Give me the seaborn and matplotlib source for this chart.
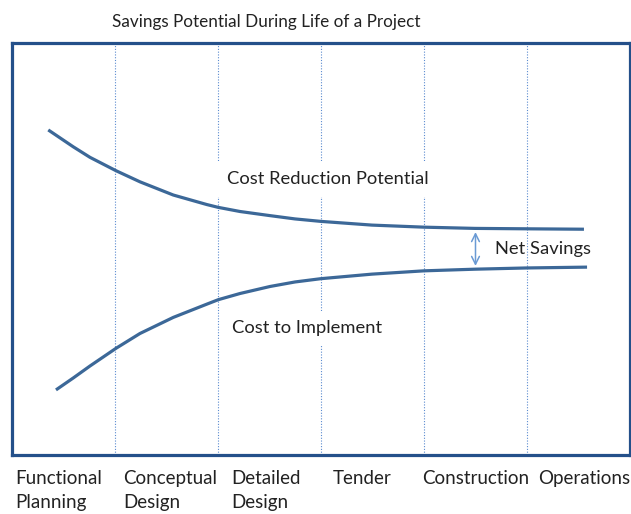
import seaborn as sns
import numpy as np
import pandas as pd
import matplotlib.pyplot as plt

# project phases (one column each) and where their labels sit
phases = ["Functional\nPlanning", "Conceptual\nDesign", "Detailed\nDesign",
          "Tender", "Construction", "Operations"]
phase_label_pos = [0.45, 1.54, 2.47, 3.40, 4.50, 5.56]

# curves: x in phase units, y in % of frame height
reduction_x = [0.352, 0.595, 0.757, 1.010, 1.243, 1.566, 1.890, 2.003, 2.214,
               2.505, 2.748, 3.000, 3.495, 4.000, 4.495, 5.000, 5.553]
reduction_y = [78.9, 74.8, 72.25, 69.0, 66.3, 63.1, 60.8, 60.1, 59.1,
               58.1, 57.3, 56.7, 55.8, 55.3, 55.0, 54.9, 54.8]
implement_x = [0.427, 0.595, 0.757, 1.010, 1.243, 1.566, 1.890, 2.003, 2.214,
               2.505, 2.748, 3.000, 3.495, 4.000, 4.495, 5.000, 5.583]
implement_y = [15.8, 18.7, 21.6, 25.9, 29.5, 33.4, 36.6, 37.7, 39.2,
               40.9, 42.0, 42.8, 43.9, 44.7, 45.1, 45.4, 45.6]

# net savings arrow
arrow_x = 4.50
arrow_top = 54.1
arrow_bottom = 45.9

sns.set_theme(style="white")
plt.rcParams['font.family'] = ['Lato', 'DejaVu Sans']

frame_color = "#24508a"
curve_color = "#3c6898"
grid_color = "#5b8bd0"
text_color = "#222222"

fig = plt.figure(figsize=(6.31, 5.14), dpi=100)
ax = fig.add_axes([12 / 631, 59 / 514, 618 / 631, 412 / 514])

df = pd.concat([
    pd.DataFrame({"phase": reduction_x, "value": reduction_y, "curve": "reduction"}),
    pd.DataFrame({"phase": implement_x, "value": implement_y, "curve": "implement"}),
])
sns.lineplot(data=df, x="phase", y="value", units="curve", estimator=None,
             sort=False, color=curve_color, lw=2.3, ax=ax, zorder=5,
             solid_capstyle="butt", solid_joinstyle="round")

# dotted phase separators
for b in range(1, len(phases)):
    ax.axvline(b, color=grid_color, lw=0.8, ls=(0, (1, 1.5)), zorder=1)

ax.set_xlim(0, len(phases))
ax.set_ylim(0, 100)
ax.set_xlabel("")
ax.set_ylabel("")
ax.set_yticks([])
ax.set_xticks(phase_label_pos)
ax.set_xticklabels(phases, fontsize=13.5, color=text_color,
                   multialignment="left", linespacing=1.45)
ax.tick_params(axis="x", length=0, pad=11)
for s in ax.spines.values():
    s.set_color(frame_color)
    s.set_linewidth(2.3)

ax.text(2.09, 67.0, "Cost Reduction Potential", fontsize=13.2, color=text_color,
        va="center", ha="left", bbox=dict(facecolor="white", edgecolor="none",
                                          boxstyle="square,pad=0.55"), zorder=3)
ax.text(2.14, 30.8, "Cost to Implement", fontsize=13.2, color=text_color,
        va="center", ha="left", bbox=dict(facecolor="white", edgecolor="none",
                                          boxstyle="square,pad=0.5"), zorder=3)
ax.text(4.69, 50.0, "Net Savings", fontsize=13.2, color=text_color,
        va="center", ha="left", zorder=6)

ax.annotate("", xy=(arrow_x, arrow_top), xytext=(arrow_x, arrow_bottom),
            arrowprops=dict(arrowstyle="<->", color="#6a9ad4", lw=1.1,
                            mutation_scale=14, shrinkA=0, shrinkB=0))

fig.text(266 / 631, 1 - 22 / 514, "Savings Potential During Life of a Project",
         fontsize=12.3, color=text_color, ha="center", va="center")

fig.savefig("out.png", dpi=100)
